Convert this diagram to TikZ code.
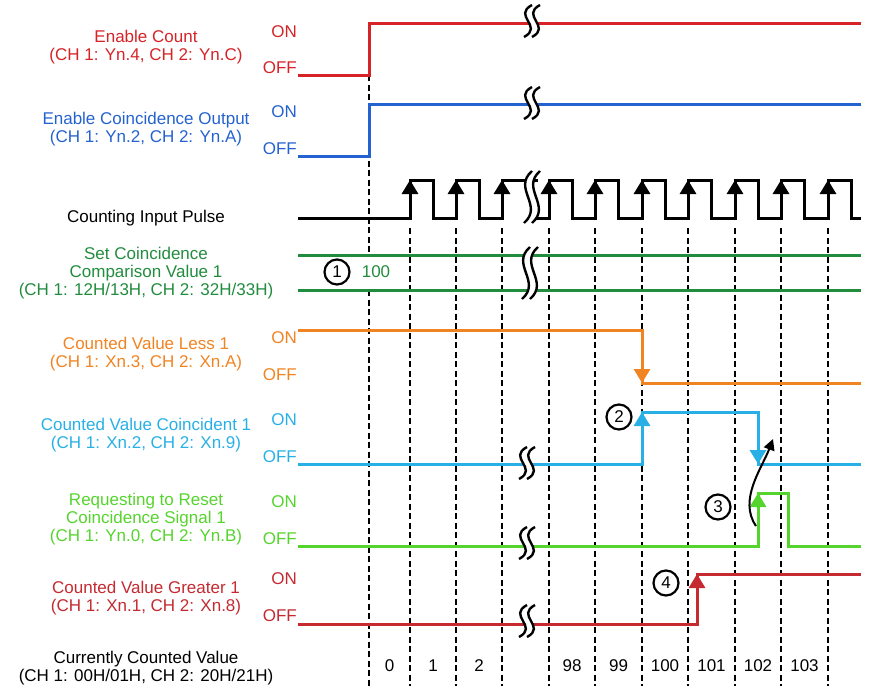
\documentclass[tikz,border=0pt]{standalone}
\usepackage{fontspec}
\setmainfont{Liberation Sans}
\usetikzlibrary{arrows.meta}
\definecolor{myred}{RGB}{213,35,40}
\definecolor{myblue}{RGB}{36,98,207}
\definecolor{mygreen}{RGB}{34,140,62}
\definecolor{myorange}{RGB}{240,132,34}
\definecolor{mycyan}{RGB}{40,176,230}
\definecolor{mylime}{RGB}{86,212,46}
\definecolor{mydarkred}{RGB}{196,42,48}

% break symbol: x, y, half height
\newcommand{\breakmark}[3]{%
\fill[white] (#1,#2-#3) .. controls (#1-20,#2-#3/3) and (#1+12,#2+#3/3) .. (#1-8,#2+#3)
  -- (#1,#2+#3) .. controls (#1+20,#2+#3/3) and (#1-12,#2-#3/3) .. (#1+8,#2-#3) -- cycle;
\draw[line width=2.4] (#1,#2-#3) .. controls (#1-20,#2-#3/3) and (#1+12,#2+#3/3) .. (#1-8,#2+#3);
\draw[line width=2.4] (#1+8,#2-#3) .. controls (#1-12,#2-#3/3) and (#1+20,#2+#3/3) .. (#1,#2+#3);
}

\begin{document}
\begin{tikzpicture}[x=1pt,y=-1pt,
  every node/.style={font=\fontsize{17}{18}\selectfont},
  sig/.style={line width=3},
  gridline/.style={line width=2.7, dash pattern=on 6pt off 3.5pt},
  stepup/.style={sig, -{Triangle[length=14pt,width=16pt]}},
  lbl/.style={align=center},
  onoff/.style={anchor=east, inner sep=0},
  marker/.style={circle, draw, line width=2.2, fill=white, minimum size=25pt, inner sep=0,
    font=\fontsize{17}{17}\selectfont}]
\useasboundingbox (0,0) rectangle (875,699);

%count borders
\draw[gridline] (369,75) -- (369,255);
\draw[gridline] (369,290) -- (369,686);
\foreach \x in {410,456,502,549,595,642,688,735,781,828}
  \draw[gridline] (\x,228) -- (\x,686);

%enable count
\draw[sig, myred] (298,75) -- (369,75) -- (369,23) -- (861,23);
%enable coincidence output
\draw[sig, myblue] (298,156) -- (369,156) -- (369,104) -- (861,104);

%counting input pulse
\draw[sig] (298,218) -- (410,218) -- (410,180) -- (433,180) -- (433,218) -- (456,218) -- (456,180)
  -- (479,180) -- (479,218) -- (502,218) -- (502,180) -- (538,180);
\draw[sig] (530,218) \foreach \x in {549,595,642,688,735,781,828}{ -- (\x,218) -- (\x,180)
  -- (\x+23,180) -- (\x+23,218)} -- (861,218);
\foreach \x in {410,456,502,549,595,642,688,735,781,828}
  \draw[stepup] (\x,218) -- (\x,180);

%set value
\draw[sig, mygreen] (298,255) -- (861,255);
\draw[sig, mygreen] (298,290) -- (861,290);

%less
\draw[sig, myorange] (298,330) -- (642,330) -- (642,383) -- (861,383);
\draw[stepup, myorange] (642,330) -- (642,383);

%coincident
\draw[sig, mycyan] (298,464) -- (642,464) -- (642,412) -- (758,412) -- (758,464) -- (861,464);
\draw[stepup, mycyan] (642,464) -- (642,412);
\draw[stepup, mycyan] (758,412) -- (758,464);

%reset request
\draw[sig, mylime] (298,546) -- (758,546) -- (758,493) -- (788,493) -- (788,546) -- (861,546);
\draw[stepup, mylime] (758,546) -- (758,493);

%greater
\draw[sig, mydarkred] (298,624) -- (697,624) -- (697,574) -- (861,574);
\draw[stepup, mydarkred] (697,624) -- (697,574);

%reset clears coincidence
\coordinate (rst-rise) at (756,526);
\coordinate (cnc-fall) at (773,439);
\draw[line width=2, -{Triangle[length=11pt,width=11pt]}] (rst-rise) .. controls (738,500) and (762,468) .. (cnc-fall);

%time breaks
\breakmark{532}{21}{16}
\breakmark{532}{103}{16}
\breakmark{532}{197}{26}
\breakmark{530}{273}{26}
\breakmark{527}{463}{16}
\breakmark{527}{543}{16}
\breakmark{527}{621}{16}

%signal names
\node[lbl, myred] (encnt) at (146,47) {Enable Count\\(CH 1: Yn.4, CH 2: Yn.C)};
\node[lbl, myblue] (encoin) at (146,129) {Enable Coincidence Output\\(CH 1: Yn.2, CH 2: Yn.A)};
\node[lbl] (pulse) at (146,218.5) {Counting Input Pulse};
\node[lbl, mygreen] (setval) at (146,273.5) {Set Coincidence\\Comparison Value 1\\(CH 1: 12H/13H, CH 2: 32H/33H)};
\node[lbl, myorange] (less) at (146,354.5) {Counted Value Less 1\\(CH 1: Xn.3, CH 2: Xn.A)};
\node[lbl, mycyan] (coin) at (146,435) {Counted Value Coincident 1\\(CH 1: Xn.2, CH 2: Xn.9)};
\node[lbl, mylime] (reset) at (146,519) {Requesting to Reset\\Coincidence Signal 1\\(CH 1: Yn.0, CH 2: Yn.B)};
\node[lbl, mydarkred] (greater) at (146,598) {Counted Value Greater 1\\(CH 1: Xn.1, CH 2: Xn.8)};
\node[lbl] (current) at (146,668) {Currently Counted Value\\(CH 1: 00H/01H, CH 2: 20H/21H)};

%on / off
\node[onoff, myred] (encnt-on) at (297,32) {ON};
\node[onoff, myred] (encnt-off) at (297,68) {OFF};
\node[onoff, myblue] (encoin-on) at (297,112) {ON};
\node[onoff, myblue] (encoin-off) at (297,149) {OFF};
\node[onoff, myorange] (less-on) at (297,338) {ON};
\node[onoff, myorange] (less-off) at (297,375) {OFF};
\node[onoff, mycyan] (coin-on) at (297,420) {ON};
\node[onoff, mycyan] (coin-off) at (297,457) {OFF};
\node[onoff, mylime] (reset-on) at (297,502) {ON};
\node[onoff, mylime] (reset-off) at (297,539) {OFF};
\node[onoff, mydarkred] (greater-on) at (297,579) {ON};
\node[onoff, mydarkred] (greater-off) at (297,616) {OFF};

%counted values
\node (v0) at (389.5,666) {0};
\node (v1) at (433,666) {1};
\node (v2) at (479,666) {2};
\node (v98) at (572,666) {98};
\node (v99) at (618.5,666) {99};
\node (v100) at (665,666) {100};
\node (v101) at (711.5,666) {101};
\node (v102) at (758,666) {102};
\node (v103) at (804.5,666) {103};

%set value and step markers
\node[mygreen] (setnum) at (376,272) {100};
\node[marker] (m1) at (337,272) {1};
\node[marker] (m2) at (619,417) {2};
\node[marker] (m3) at (718,507) {3};
\node[marker] (m4) at (666,583) {4};

\end{tikzpicture}
\end{document}
